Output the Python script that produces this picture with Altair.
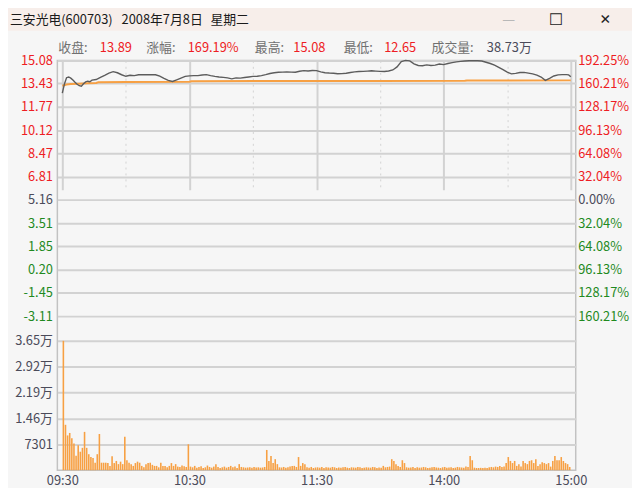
import json
import altair as alt
import pandas as pd

# ---------------- data ----------------
minutes = [0, 1, 2, 3, 4, 5, 6, 7, 8, 9, 10, 11, 12, 13, 14, 16, 18, 20, 22, 24, 26, 28,
           30, 32, 34, 36, 38, 40, 42, 44, 46, 48, 50, 52, 54, 56, 58, 60, 62, 64, 66, 68,
           70, 72, 74, 76, 78, 80, 82, 84, 86, 88, 90, 92, 94, 96, 98, 100, 102, 104, 106,
           108, 110, 112, 114, 116, 118, 120, 122, 124, 126, 128, 130, 132, 134, 136, 138,
           140, 142, 144, 146, 148, 150, 152, 154, 156, 158, 160, 162, 164, 166, 168, 170,
           172, 174, 176, 178, 180, 182, 184, 186, 188, 190, 192, 194, 196, 198, 200, 202,
           204, 206, 208, 210, 212, 214, 216, 218, 220, 222, 224, 226, 228, 230, 232, 234,
           236, 238, 239, 240]
prices = [12.75, 13.40, 13.85, 13.90, 13.82, 13.68, 13.52, 13.38, 13.28, 13.24, 13.42, 13.55,
          13.60, 13.56, 13.68, 13.72, 13.88, 14.02, 14.18, 14.28, 14.20, 14.06,
          13.95, 14.02, 14.00, 14.06, 14.07, 14.06, 14.07, 14.06, 13.96, 13.80, 13.66, 13.58,
          13.70, 13.82, 13.94, 13.98, 14.00, 14.00, 14.04, 14.07,
          14.00, 13.94, 13.90, 13.87, 13.84, 13.77, 13.84, 13.82, 13.86, 13.90, 13.94, 13.95,
          14.00, 14.07, 14.15, 14.20, 14.24, 14.25, 14.26,
          14.25, 14.24, 14.31, 14.35, 14.33, 14.36, 14.35, 14.26, 14.20, 14.18, 14.17, 14.13,
          14.14, 14.17, 14.22, 14.26,
          14.29, 14.30, 14.32, 14.34, 14.32, 14.30, 14.29, 14.33, 14.40, 14.62, 15.00, 15.08,
          15.05, 14.84, 14.72, 14.70,
          14.76, 14.72, 14.74, 14.82, 14.78, 14.86, 14.92, 14.98, 15.01, 15.04, 15.06, 15.06,
          15.06, 15.04, 14.95, 14.86,
          14.74, 14.58, 14.42, 14.24, 14.12, 14.16, 14.22, 14.23, 14.18, 14.12, 14.03, 13.90,
          13.66, 13.80, 13.97, 14.05,
          14.07, 14.07, 14.05, 13.92]

avg_minutes = [0, 2, 4, 8, 12, 16, 17, 30, 60, 61, 100, 150, 190, 191, 240]
avg_prices = [13.28, 13.36, 13.40, 13.42, 13.45, 13.47, 13.52, 13.54, 13.56, 13.60, 13.61,
              13.62, 13.63, 13.65, 13.66]

volumes = [
    36500, 12800, 9800, 10500, 9000, 7500, 4100, 7000, 5200, 6300, 10800, 6300, 4500, 3700,
    3400, 2100, 4500, 10200,
    2100, 2100, 2100, 2000, 1200, 3900, 2000, 2600, 1700, 2400, 1700,
    9400,
    2800, 2100, 1700, 1200, 2000, 2400, 2100, 1200, 800, 1700, 2000, 2100, 1500, 1200, 1200,
    800, 2100, 1200, 1200, 800, 1200, 2000, 1200, 1700, 1000, 900, 1300, 1100, 900,
    7300,
    1000, 800, 1200, 700, 900, 1100, 600, 800, 1300, 900, 700, 1000, 1700, 900, 600, 800,
    1000, 700, 900, 1200, 800, 1000, 600, 1700, 900, 800, 700, 750, 800, 700, 900, 750, 800,
    700, 750, 900,
    5700, 2600, 4000, 2000, 3100, 1700,
    800, 750, 900, 700, 800, 1000, 1200, 1200, 900,
    3700, 1200, 2000, 1700,
    800, 700, 900, 600, 750, 800, 700, 900, 600, 800, 750, 700, 900, 800, 600, 750, 700, 800,
    900, 700, 600, 800, 750, 700, 900, 800, 600, 700, 800, 750, 700, 900, 800, 600, 750, 700,
    1200, 800, 900, 1000,
    3100, 2600, 1700, 1200, 900, 2800, 2000,
    800, 700, 750, 900, 600, 800, 700, 750, 900, 800, 600, 700, 800, 900, 750, 700, 600, 800,
    900, 700, 750, 800, 600, 700, 900, 800, 750, 700, 1000, 900,
    4000, 2800,
    700, 600, 600, 650, 600, 700, 600, 800, 900, 800, 1000, 900, 1200, 900, 1000,
    2000, 3700, 2600, 2000, 2600, 1200, 1700, 1000, 2600, 2000, 1700, 2600, 2800, 2000, 3100,
    1200, 1700, 2200, 2000, 1700, 2000, 1000, 2600, 4000, 2800, 2800, 3700, 2600, 2000, 1700,
    900,
]

price_ticks = [15.08, 13.43, 11.77, 10.12, 8.47, 6.81, 5.16, 3.51, 1.85, 0.20, -1.45, -3.11]
price_tick_labels = ["15.08", "13.43", "11.77", "10.12", "8.47", "6.81", "5.16", "3.51",
                     "1.85", "0.20", "-1.45", "-3.11"]
pct_tick_labels = ["192.25%", "160.21%", "128.17%", "96.13%", "64.08%", "32.04%", "0.00%",
                   "32.04%", "64.08%", "96.13%", "128.17%", "160.21%"]
vol_ticks = [7301, 14602, 21903, 29204, 36505]
vol_tick_labels = ["7301", "1.46万", "2.19万", "2.92万", "3.65万"]
time_ticks = [0, 30, 60, 90, 120, 150, 180, 210, 240]
time_labels = ["09:30", "", "10:30", "", "11:30", "", "14:00", "", "15:00"]

title_parts = ["三安光电(600703)", "2008年7月8日", "星期二"]
header_keys = ["收盘:", "涨幅:", "最高:", "最低:", "成交量:"]
header_vals = ["13.89", "169.19%", "15.08", "12.65", "38.73万"]
window_buttons = ["—", "☐", "✕"]

# ---------------- styling / layout ----------------
FONT = "Noto Sans CJK SC"
RED = "#ee1d24"
GREEN = "#1f8a1f"
DARK = "#4b4b5a"
GRID = "#d2d2d2"
ORANGE = "#f7a043"
LINEGRAY = "#5c5c5c"
BG = "#f6f6f6"
BEIGE = "#f7eeea"

W, H = 525, 415
PRICE_H = 284
P_HI = price_ticks[0]
P_STEP = (price_ticks[0] - price_ticks[-1]) / (len(price_ticks) - 1)
P_LO = P_HI - P_STEP * (PRICE_H / (259.0 / 11.0))

def pick(labels, ticks):
    return f"{json.dumps(labels, ensure_ascii=False)}[indexof({json.dumps(ticks)}, datum.value)]"

three_color = {
    "condition": [
        {"test": "datum.value > 5.2", "value": RED},
        {"test": "datum.value > 5.1", "value": DARK},
    ],
    "value": GREEN,
}

x_enc = alt.X(
    "m:Q",
    title=None,
    scale=alt.Scale(domain=[0, 240], nice=False, zero=False),
    axis=alt.Axis(
        values=time_ticks,
        labelExpr=pick(time_labels, time_ticks),
        grid=True,
        gridColor=GRID,
        gridWidth={"condition": {"test": "datum.value % 60 != 0", "value": 1}, "value": 2},
        gridDash={"condition": {"test": "datum.value % 60 != 0", "value": [2, 4]}, "value": []},
        domain=False,
        ticks=False,
        labelFlush=False,
        labelOverlap=False,
        labelPadding=5,
        labelFontSize=13,
        labelColor=DARK,
        labelFont=FONT,
    ),
)

price_scale = alt.Scale(domain=[P_LO, P_HI], range=[PRICE_H, 0], nice=False, zero=False)

line_df = pd.DataFrame({"m": minutes, "p": prices})
avg_df = pd.DataFrame({"m": avg_minutes, "p": avg_prices})
vol_df = pd.DataFrame({"i": list(range(len(volumes))), "v": volumes})

price_line = alt.Chart(line_df).mark_line(color=LINEGRAY, strokeWidth=1.4).encode(
    x=x_enc,
    y=alt.Y(
        "p:Q",
        title=None,
        scale=price_scale,
        axis=alt.Axis(
            orient="left",
            values=price_ticks,
            labelExpr=pick(price_tick_labels, price_ticks),
            labelColor=three_color,
            grid=True,
            gridColor=GRID,
            gridWidth=2,
            domain=False,
            ticks=False,
            labelPadding=5,
            labelFontSize=13,
            labelFont=FONT,
        ),
    ),
)

avg_line = alt.Chart(avg_df).mark_line(color=ORANGE, strokeWidth=2).encode(
    x=x_enc,
    y=alt.Y("p:Q", title=None, scale=price_scale, axis=None),
)

pct_axis = alt.Chart(line_df).mark_line(strokeOpacity=0).encode(
    x=x_enc,
    y=alt.Y(
        "p:Q",
        title=None,
        scale=price_scale,
        axis=alt.Axis(
            orient="right",
            values=price_ticks,
            labelExpr=pick(pct_tick_labels, price_ticks),
            labelColor=three_color,
            grid=False,
            domain=False,
            ticks=False,
            labelPadding=2,
            labelFontSize=13,
            labelFont=FONT,
        ),
    ),
)

vol_bars = alt.Chart(vol_df).transform_calculate(m="datum.i + 0.5").mark_bar(
    color=ORANGE, size=1.6
).encode(
    x=x_enc,
    y=alt.Y(
        "v:Q",
        title=None,
        scale=alt.Scale(domain=[0, vol_ticks[-1]], range=[H, PRICE_H], nice=False, zero=True),
        axis=alt.Axis(
            orient="left",
            values=vol_ticks,
            labelExpr=pick(vol_tick_labels, vol_ticks),
            labelColor=DARK,
            grid=True,
            gridColor=GRID,
            gridWidth=2,
            domain=False,
            ticks=False,
            labelPadding=5,
            labelFontSize=13,
            labelFont=FONT,
        ),
    ),
)


def text_layer(s, x, y, color, size=13, align="left", font=FONT):
    return alt.Chart(pd.DataFrame({"t": [s]})).mark_text(
        align=align, baseline="middle", fontSize=size, color=color, font=font
    ).encode(text="t:N", x=alt.value(x), y=alt.value(y))


title_bar = alt.Chart(pd.DataFrame({"t": [0]})).mark_rect(color=BEIGE).encode(
    x=alt.value(-60), x2=alt.value(600), y=alt.value(-60), y2=alt.value(-30)
)

layers = [title_bar, vol_bars, avg_line, price_line, pct_axis]

title_x = [-48, 65, 155]
for s, x in zip(title_parts, title_x):
    layers.append(text_layer(s, x, -41, "#1a1a1a", size=13))

btn_x = [457, 505, 555]
btn_col = ["#b8b8b8", "#222222", "#222222"]
btn_size = [13, 16, 14]
for s, x, c, fs in zip(window_buttons, btn_x, btn_col, btn_size):
    layers.append(text_layer(s, x, -41, c, size=fs, align="center", font="DejaVu Sans"))

key_x = [1, 90, 200, 290, 379]
val_x = [43, 132, 239, 331, 435]
for k, v, kx, vx, i in zip(header_keys, header_vals, key_x, val_x, range(5)):
    layers.append(text_layer(k, kx, -13, "#707070", size=13))
    layers.append(text_layer(v, vx, -13, DARK if i == 4 else RED, size=13))

chart = (
    alt.layer(*layers)
    .resolve_scale(y="independent")
    .properties(
        width=W,
        height=H,
        autosize=alt.AutoSizeParams(type="none"),
        padding={"left": 50, "top": 50, "right": 57, "bottom": 15},
        background=BG,
    )
    .configure_view(stroke="#c2c2c2", strokeWidth=1.5)
)

chart.save("out.html", embed_options={"renderer": "svg", "actions": False})
